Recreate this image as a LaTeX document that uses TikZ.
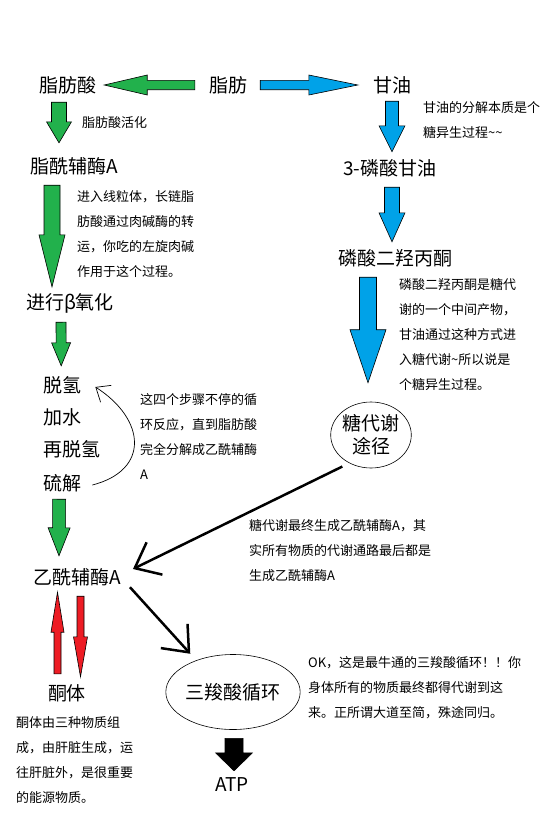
\documentclass[tikz,border=0pt]{standalone}
\usepackage{fontspec}
\setmainfont{Noto Sans CJK SC}
\usepackage{tikz}
\usetikzlibrary{arrows.meta,calc,positioning,shapes.geometric}

\definecolor{paintgreen}{RGB}{34,177,76}
\definecolor{paintblue}{RGB}{0,162,232}
\definecolor{paintred}{RGB}{237,28,36}

\tikzset{
  stage/.style={inner sep=0pt,minimum height=38pt,font=\fontsize{19}{23}\selectfont},
  remark/.style={anchor=north west,inner sep=0pt,align=left,font=\fontsize{13}{25}\selectfont},
  loopnode/.style={stage,ellipse,draw,line width=0.6pt,align=center},
  thickarr/.style={line width=2.5pt,-{Straight Barb[length=22pt,width=36pt]}},
  thinarr/.style={line width=0.7pt,-{Straight Barb[length=12pt,width=20pt]}},
}

% block arrow: fill, start, tip, shaft half width, head half width, head length
\newcommand{\fatarrow}[6]{%
  \path #2 coordinate (fas) #3 coordinate (fae);
  \coordinate (fah) at ($(fae)!#6pt!(fas)$);
  \filldraw[fill=#1,draw=black,line width=0.6pt,line join=miter]
    ($(fas)!#4pt!90:(fae)$) -- ($(fah)!#4pt!90:(fae)$) -- ($(fah)!#5pt!90:(fae)$) -- (fae)
    -- ($(fah)!#5pt!-90:(fae)$) -- ($(fah)!#4pt!-90:(fae)$) -- ($(fas)!#4pt!-90:(fae)$) -- cycle;
}

\begin{document}
\begin{tikzpicture}[x=1pt,y=-1pt]
  \path[use as bounding box,fill=white] (0,0) rectangle (559,815);
  % stages
  \node[stage] (fat) at (228,85) {脂肪};
  \node[stage] (fa) at (68,85) {脂肪酸};
  \node[stage] (gly) at (392,85) {甘油};
  \node[stage] (fac) at (74,166) {脂酰辅酶A};
  \node[stage] (beta) at (70,303) {进行β氧化};
  \node[stage,anchor=west] (s1) at (43,385) {脱氢};
  \node[stage,anchor=west] (s2) at (43,417) {加水};
  \node[stage,anchor=west] (s3) at (43,449) {再脱氢};
  \node[stage,anchor=west] (s4) at (43,483) {硫解};
  \node[stage] (acoa) at (77,577) {乙酰辅酶A};
  \node[stage] (ket) at (67,693) {酮体};
  \node[stage] (g3p) at (390,168) {3-磷酸甘油};
  \node[stage] (dhap) at (395,258) {磷酸二羟丙酮};
  \node[loopnode,minimum width=80pt,minimum height=66pt] (glyc) at (371,435) {糖代谢\\途径};
  \node[loopnode,minimum width=129pt,minimum height=75pt] (tca) at (233,692) {三羧酸循环};
  \node[stage] (atp) at (232,785) {ATP};
  % remarks
  \node[remark] (actnote) at (82,116.5) {脂肪酸活化};
  \node[remark] (glynote) at (423,101.5) {甘油的分解本质是个\\糖异生过程\textasciitilde\textasciitilde};
  \node[remark] (carnote) at (77,190.5) {进入线粒体，长链脂\\肪酸通过肉碱酶的转\\运，你吃的左旋肉碱\\作用于这个过程。};
  \node[remark] (dhapnote) at (399,278.5) {磷酸二羟丙酮是糖代\\谢的一个中间产物，\\甘油通过这种方式进\\入糖代谢\textasciitilde 所以说是\\个糖异生过程。};
  \node[remark] (cycnote) at (140,393.5) {这四个步骤不停的循\\环反应，直到脂肪酸\\完全分解成乙酰辅酶\\A};
  \node[remark] (glycnote) at (249,519.5) {糖代谢最终生成乙酰辅酶A，其\\实所有物质的代谢通路最后都是\\生成乙酰辅酶A};
  \node[remark] (tcanote) at (308,656.5) {OK，这是最牛通的三羧酸循环！！你\\身体所有的物质最终都得代谢到这\\来。正所谓大道至简，殊途同归。};
  \node[remark] (ketnote) at (16,716.5) {酮体由三种物质组\\成，由肝脏生成，运\\往肝脏外，是很重要\\的能源物质。};
  % block arrows
  \fatarrow{paintgreen}{([xshift=-14]fat.west)}{([xshift=7.5]fa.east)}{4.7}{10}{43}
  \fatarrow{paintblue}{([xshift=13]fat.east)}{([xshift=-15]gly.west)}{4.7}{10}{49}
  \fatarrow{paintgreen}{([xshift=-9,yshift=2]fa.south)}{([xshift=-15,yshift=4]fac.north)}{7.5}{12.5}{21}
  \fatarrow{paintgreen}{([xshift=-22]fac.south)}{([xshift=-18,yshift=-3]beta.north)}{8}{13}{52}
  \fatarrow{paintgreen}{([xshift=-9]beta.south)}{([xshift=-1]s1.north)}{5}{9.5}{23}
  \fatarrow{paintgreen}{([xshift=-3,yshift=3]s4.south)}{([xshift=-18,yshift=2]acoa.north)}{6.5}{11}{28}
  \fatarrow{paintblue}{([yshift=3]gly.south)}{([xshift=2,yshift=-3]g3p.north)}{6.5}{13}{26}
  \fatarrow{paintblue}{([xshift=2]g3p.south)}{([xshift=-3,yshift=-3]dhap.north)}{7.5}{13}{29}
  \fatarrow{paintblue}{([xshift=-27]dhap.south)}{([xshift=-3,yshift=19]glyc.north)}{8.5}{18}{53}
  \fatarrow{paintred}{([xshift=-9.5]ket.north)}{([xshift=-19.5,yshift=4]acoa.south)}{3.5}{6.5}{40}
  \fatarrow{paintred}{([xshift=3.5]acoa.south)}{([xshift=13.5,yshift=-3]ket.north)}{3.5}{7}{40}
  \fatarrow{black}{([xshift=1,yshift=-8.5]tca.south)}{([xshift=2,yshift=-5]atp.north)}{9}{18.5}{18}
  % line arrows
  \draw[thinarr] ([xshift=11,yshift=-2]s4.east) .. controls +(58,-15) and +(50,32) .. ([xshift=14,yshift=-2]s1.east);
  \draw[thickarr] ([yshift=-8]glyc.south west) -- ([xshift=12,yshift=8]acoa.east);
  \draw[thickarr] ([xshift=9,yshift=9]acoa.south east) -- ([xshift=5,yshift=11.5]tca.north west);
\end{tikzpicture}
\end{document}
